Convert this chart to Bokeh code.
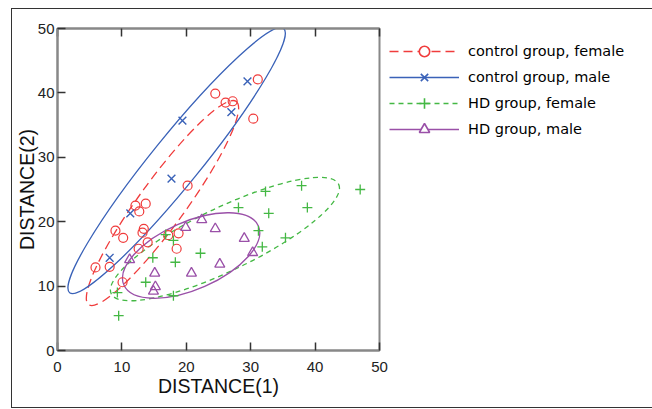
import numpy as np
from bokeh.plotting import figure
from bokeh.models import Legend, LegendItem, LinearAxis, Range1d, FixedTicker
from bokeh.embed import file_html
from bokeh.resources import INLINE

# ---- data ----
cf_x = [5.9, 8.1, 9.0, 10.2, 10.1, 12.1, 12.7, 13.7, 13.2, 13.4, 14.0, 12.6, 17.2, 18.8, 18.5, 20.2, 24.5, 26.1, 27.2, 30.4, 31.1]
cf_y = [12.9, 13.0, 18.6, 17.5, 10.6, 22.5, 21.6, 22.8, 18.3, 18.9, 16.8, 15.8, 17.9, 18.2, 15.8, 25.6, 39.9, 38.5, 38.7, 36.0, 42.1]
cm_x = [8.1, 11.3, 17.7, 19.4, 27.0, 29.5]
cm_y = [14.4, 21.3, 26.7, 35.7, 37.0, 41.8]
hf_x = [9.5, 9.3, 13.7, 14.8, 18.0, 18.3, 18.0, 16.8, 22.2, 28.1, 32.3, 32.8, 31.2, 31.8, 35.4, 37.9, 38.8, 47.0]
hf_y = [5.4, 9.0, 10.6, 14.4, 8.5, 13.7, 17.1, 18.0, 15.1, 22.2, 24.7, 21.3, 18.6, 16.1, 17.5, 25.6, 22.2, 25.0]
hm_x = [11.2, 15.1, 15.2, 14.9, 19.9, 22.4, 24.5, 20.8, 25.2, 29.0, 30.3]
hm_y = [14.1, 12.0, 9.9, 9.2, 19.1, 20.3, 18.9, 12.0, 13.4, 17.4, 15.2]

# ellipse parameters: center x, center y, full major, full minor, angle (deg)
ell_cx = [16.3, 18.5, 26.0, 20.75]
ell_cy = [22.9, 29.5, 17.3, 14.75]
ell_w = [39.0, 52.8, 39.2, 22.8]
ell_h = [7.2, 7.6, 9.8, 10.5]
ell_ang = [54.0, 51.0, 25.7, 23.7]

labels = ["control group, female", "control group, male", "HD group, female", "HD group, male"]
colors = ["#f03c3c", "#3a62b8", "#44b844", "#9a50a8"]
dashes = ["9 5", "solid", "5 4", "solid"]
markers = ["circle", "x", "cross", "triangle"]

x_ticks = [0, 10, 20, 30, 40, 50]
y_ticks = [0, 10, 20, 30, 40, 50]

p = figure(x_range=Range1d(0, 50), y_range=Range1d(0, 50),
           frame_width=322, frame_height=322,
           min_border_left=45, min_border_right=265, min_border_top=19, min_border_bottom=57,
           output_backend="svg", toolbar_location=None)
p.styles = {"border": "1px solid #333", "margin-left": "11px", "margin-top": "8px"}
p.xgrid.visible = False
p.ygrid.visible = False
p.outline_line_color = "#888888"
p.outline_line_width = 2
p.background_fill_color = "white"
p.border_fill_color = "white"

# ellipses
for i in range(4):
    p.ellipse(x=[ell_cx[i]], y=[ell_cy[i]], width=[ell_w[i]], height=[ell_h[i]],
              angle=[np.deg2rad(ell_ang[i])], fill_alpha=0, line_color=colors[i],
              line_width=1.3, line_dash=dashes[i])

# points
p.scatter(cf_x, cf_y, marker="circle", size=9, fill_alpha=0, line_color=colors[0], line_width=1.2)
p.scatter(cm_x, cm_y, marker="x", size=11, line_color=colors[1], line_width=1.4)
p.scatter(hf_x, hf_y, marker="cross", size=10, line_color=colors[2], line_width=1.3)
p.scatter(hm_x, hm_y, marker="triangle", size=10, fill_alpha=0, line_color=colors[3], line_width=1.3)

# legend proxies: NaN data (nothing drawn in the plot, only in the legend)
items = []
for i in range(4):
    ln = p.line(x=[np.nan], y=[np.nan], line_color=colors[i], line_width=1.6, line_dash=dashes[i])
    mk = p.scatter(x=[np.nan], y=[np.nan], marker=markers[i], size=12, fill_color="white", fill_alpha=1,
                   line_color=colors[i], line_width=1.6)
    items.append(LegendItem(label=labels[i], renderers=[ln, mk]))
leg = Legend(items=items, location="top_left", orientation="vertical")
leg.label_text_font = "DejaVu Sans"
leg.label_text_font_size = "14.5px"
leg.label_text_color = "#000000"
leg.glyph_width = 70
leg.glyph_height = 26
leg.label_standoff = 9
leg.spacing = 0
leg.padding = 0
leg.margin = 10
leg.border_line_alpha = 0
leg.background_fill_alpha = 0
p.add_layout(leg, "right")

# axes styling
for ax, tk in [(p.xaxis[0], x_ticks), (p.yaxis[0], y_ticks)]:
    ax.ticker = tk
    ax.major_tick_in = 8
    ax.major_tick_out = 0
    ax.minor_tick_line_color = None
    ax.axis_line_color = "#888888"
    ax.axis_line_width = 2
    ax.major_tick_line_color = "#333333"
    ax.major_tick_line_width = 1.5
    ax.major_label_text_font = "Liberation Sans"
    ax.major_label_text_font_size = "15px"
    ax.major_label_text_color = "#222222"
    ax.axis_label_text_font = "Liberation Sans"
    ax.axis_label_text_font_size = "19.5px"
    ax.axis_label_text_font_style = "normal"
    ax.axis_label_text_color = "#111111"
p.xaxis.major_label_standoff = 11
p.xaxis.axis_label_standoff = 0
p.yaxis.major_label_standoff = 3
p.yaxis.axis_label_standoff = -3
p.xaxis.axis_label = "DISTANCE(1)"
p.yaxis.axis_label = "DISTANCE(2)"

# top and right: tick marks only (drawn as minor ticks, so no labels)
top = LinearAxis(ticker=FixedTicker(ticks=[], minor_ticks=x_ticks), major_tick_line_color=None,
                 minor_tick_in=8, minor_tick_out=0, minor_tick_line_color="#333333", minor_tick_line_width=1.5,
                 axis_line_color="#888888", axis_line_width=2, major_label_standoff=0)
right = LinearAxis(ticker=FixedTicker(ticks=[], minor_ticks=y_ticks), major_tick_line_color=None,
                   minor_tick_in=8, minor_tick_out=0, minor_tick_line_color="#333333", minor_tick_line_width=1.5,
                   axis_line_color="#888888", axis_line_width=2, major_label_standoff=0)
p.add_layout(top, "above")
p.add_layout(right, "right")

open("out.html", "w").write(file_html(p, INLINE))
